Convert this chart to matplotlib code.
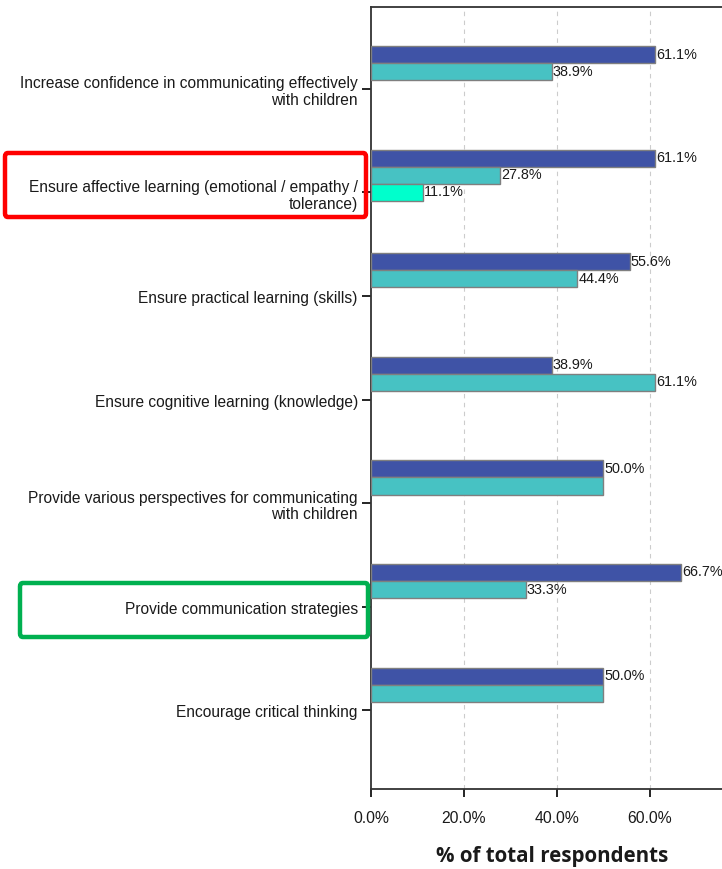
import matplotlib.pyplot as plt
import numpy as np
from matplotlib.patches import FancyBboxPatch

# data
categories = ["Increase confidence in communicating effectively\nwith children",
              "Ensure affective learning (emotional / empathy /\ntolerance)",
              "Ensure practical learning (skills)",
              "Ensure cognitive learning (knowledge)",
              "Provide various perspectives for communicating\nwith children",
              "Provide communication strategies",
              "Encourage critical thinking"]
series1 = [61.1, 61.1, 55.6, 38.9, 50.0, 66.7, 50.0]
series2 = [38.9, 27.8, 44.4, 61.1, 50.0, 33.3, 50.0]
series3 = [0, 11.1, 0, 0, 0, 0, 0]
xticks = [0, 20, 40, 60]
xticklabels = ["0.0%", "20.0%", "40.0%", "60.0%"]

colors = ["#3F53A6", "#47C2C3", "#00FFCC"]

W, H = 722, 870
fig = plt.figure(figsize=(W / 100, H / 100), dpi=100)
ax = fig.add_axes([371 / W, 1 - 790 / H, 362 / W, 782 / H])

y = np.arange(len(categories))
bh = 0.165
for k, (vals, c) in enumerate(zip([series1, series2, series3], colors)):
    off = (k - 2) * bh
    for i, v in enumerate(vals):
        if v <= 0:
            continue
        ax.barh(y[i] + off, v, height=bh, color=c, edgecolor="#7f7f7f", linewidth=1.0, zorder=3)
        # SPSS hides overlapping label on equal bars
        if k == 1 and v == series1[i]:
            continue
        ax.text(v + 0.2, y[i] + off - 0.01, "%.1f%%" % v, va="center", ha="left",
                fontsize=10.4, family="Liberation Sans", color="#1a1a1a", zorder=4)

ax.set_ylim(6.76, -0.79)
ax.set_xlim(0, 77.85)
ax.set_yticks(y)
ax.set_yticklabels(categories, fontsize=11.2, family="Liberation Sans", color="#1a1a1a",
                   linespacing=1.15)
ax.set_xticks(xticks)
ax.set_xticklabels(xticklabels, fontsize=11.3, family="Liberation Sans", color="#1a1a1a")
ax.tick_params(axis="y", length=6.5, width=1.2, pad=3)
ax.tick_params(axis="x", length=6, width=1.2, pad=9)
for t in ax.get_yticklabels():
    t.set_multialignment("right")

for g in [20, 40, 60, 80]:
    ax.axvline(g, color="#cccccc", linestyle=(0, (4, 4)), linewidth=0.8, zorder=1)

for s in ["left", "bottom", "top"]:
    ax.spines[s].set_color("#333333")
    ax.spines[s].set_linewidth(1.3)
ax.spines["right"].set_visible(False)

fig.text(552 / W, 1 - 857 / H, "% of total respondents", ha="center", va="center",
         fontsize=14.8, fontweight="bold", family="Open Sans", color="#1a1a1a")

# highlight boxes
def box(x0, y0, x1, y1, col):
    p = FancyBboxPatch((x0 / W, 1 - y1 / H), (x1 - x0) / W, (y1 - y0) / H,
                       boxstyle="round,pad=0,rounding_size=0.004", transform=fig.transFigure,
                       fill=False, edgecolor=col, linewidth=3.2, zorder=10)
    fig.add_artist(p)

box(5, 154, 366, 218, "#FF0000")
box(20, 584, 368, 638, "#00B050")

fig.savefig("out.png", dpi=100)
